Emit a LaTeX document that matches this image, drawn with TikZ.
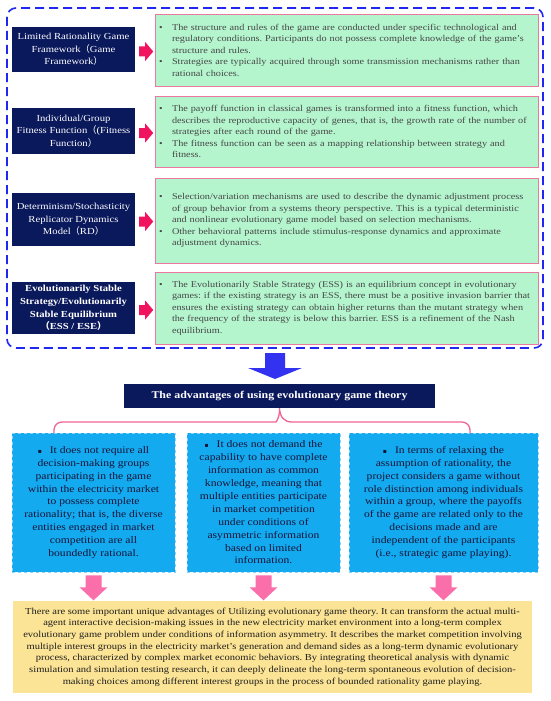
\documentclass[tikz,border=0pt]{standalone}
\usepackage{fontspec}
\setmainfont{Liberation Serif}[FakeStretch=1.15]
\newfontfamily\cjkf{Noto Sans CJK SC}
\newfontfamily\dvsf{DejaVu Sans}
\usetikzlibrary{calc}
\frenchspacing
\definecolor{navy}{RGB}{10,24,92}
\definecolor{mint}{RGB}{180,245,206}
\definecolor{pinkline}{RGB}{235,120,160}
\definecolor{graytext}{RGB}{70,70,70}
\definecolor{pinkA}{RGB}{240,20,95}
\definecolor{pinkB}{RGB}{250,110,170}
\definecolor{blueA}{RGB}{50,50,240}
\definecolor{blueD}{RGB}{30,40,240}
\definecolor{sky}{RGB}{20,170,240}
\definecolor{skyline}{RGB}{140,210,250}
\definecolor{darktext}{RGB}{20,20,55}
\definecolor{sand}{RGB}{252,228,150}
\definecolor{ytext}{RGB}{30,30,30}
\definecolor{bracepink}{RGB}{240,100,150}
\newcommand{\gbul}{\makebox[13pt][l]{\textbullet}}
\newcommand{\gind}{\hspace*{13pt}}
\newcommand{\sqb}{{\dvsf\fontsize{6}{6}\selectfont ▪}\hspace{8pt}}
\newcommand{\lpar}{{\cjkf （}}
\newcommand{\rpar}{{\cjkf ）}}
\begin{document}
\begin{tikzpicture}[x=1pt,y=-1pt,
  lbox/.style={fill=navy, text=white, minimum width=123pt, inner sep=2pt, align=center, font=\fontsize{9.25}{12.7}\selectfont},
  gbox/.style={fill=mint, draw=pinkline, line width=0.8pt, text width=375pt, inner sep=4pt, align=left, text=graytext, font=\fontsize{8.9}{11.5}\selectfont},
  bbox/.style={fill=sky, draw=skyline, dashed, line width=0.6pt, minimum height=139pt, align=center, text=darktext, font=\fontsize{10.1}{12.9}\selectfont, inner sep=0pt},
  ybox/.style={fill=sand, minimum width=519pt, minimum height=92pt, align=center, text=ytext, font=\fontsize{9.15}{11.7}\selectfont},
  tbox/.style={fill=navy, text=white, minimum width=311pt, minimum height=24pt, font=\bfseries\fontsize{10.35}{12}\selectfont},
  outerframe/.style={draw=blueD, line width=1.6pt, dash pattern=on 9pt off 5pt, rounded corners=9pt},
  bracestyle/.style={draw=bracepink, line width=1.3pt},
  sidearr/.pic={\fill[pinkA] (0,-5)--(6,-5)--(6,-9.5)--(14,0)--(6,9.5)--(6,5)--(0,5)--cycle;},
  bigarr/.pic={\fill[blueA] (-10,0)--(10,0)--(10,15)--(27,15)--(0,26)--(-27,15)--(-10,15)--cycle;},
  downarr/.pic={\fill[pinkB] (-8,0)--(8,0)--(8,12)--(14,12)--(0,25)--(-14,12)--(-8,12)--cycle;}
]
\useasboundingbox (0,0) rectangle (550,701);
\fill[white] (0,0) rectangle (550,701);

% outer dashed frame
\draw[outerframe] (7,8) rectangle (543,348);

% left boxes
\node[lbox, minimum height=45pt] (l1) at (73.5,49.5) {Limited Rationality Game\\Framework\lpar Game\\Framework\rpar};
\node[lbox, minimum height=46pt] (l2) at (73.5,131) {Individual/Group\\Fitness Function\lpar (Fitness\\Function\rpar};
\node[lbox, minimum height=53pt] (l3) at (73.5,219.5) {Determinism/Stochasticity\\Replicator Dynamics\\Model\lpar RD\rpar};
\node[lbox, minimum height=52pt, font=\bfseries\fontsize{9.25}{12.7}\selectfont] (l4) at (73.5,308) {Evolutionarily Stable\\Strategy/Evolutionarily\\Stable Equilibrium\\\lpar ESS / ESE\rpar};

% green boxes
\node[gbox, minimum height=72pt] (g1) at (346.5,50) {\gbul The structure and rules of the game are conducted under specific technological and\\\gind regulatory conditions. Participants do not possess complete knowledge of the game's\\\gind structure and rules.\\\gbul Strategies are typically acquired through some transmission mechanisms rather than\\\gind rational choices.};
\node[gbox, minimum height=71pt] (g2) at (346.5,131.5) {\gbul The payoff function in classical games is transformed into a fitness function, which\\\gind describes the reproductive capacity of genes, that is, the growth rate of the number of\\\gind strategies after each round of the game.\\\gbul The fitness function can be seen as a mapping relationship between strategy and\\\gind fitness.};
\node[gbox, minimum height=85pt] (g3) at (346.5,220.5) {\gbul Selection/variation mechanisms are used to describe the dynamic adjustment process\\\gind of group behavior from a systems theory perspective. This is a typical deterministic\\\gind and nonlinear evolutionary game model based on selection mechanisms.\\\gbul Other behavioral patterns include stimulus-response dynamics and approximate\\\gind adjustment dynamics.};
\node[gbox, minimum height=72pt] (g4) at (346.5,308) {\gbul The Evolutionarily Stable Strategy (ESS) is an equilibrium concept in evolutionary\\\gind games: if the existing strategy is an ESS, there must be a positive invasion barrier that\\\gind ensures the existing strategy can obtain higher returns than the mutant strategy when\\\gind the frequency of the strategy is below this barrier. ESS is a refinement of the Nash\\\gind equilibrium.};

% side arrows
\foreach \i in {1,2,3,4} {
  \pic at ($(l\i.east)+(4,2)$) {sidearr};
}

% big arrow and title
\coordinate (bigtail) at (275,353);
\pic at (bigtail) {bigarr};
\node[tbox] (title) at (279.5,396) {The advantages of using evolutionary game theory};

% blue boxes
\node[bbox, minimum width=163pt] (b1) at (93.5,502.5) {\sqb It does not require all\\decision-making groups\\participating in the game\\within the electricity market\\to possess complete\\rationality; that is, the diverse\\entities engaged in market\\competition are all\\boundedly rational.};
\node[bbox, minimum width=153pt] (b2) at (263.5,502.5) {\sqb It does not demand the\\capability to have complete\\information as common\\knowledge, meaning that\\multiple entities participate\\in market competition\\under conditions of\\asymmetric information\\based on limited\\information.};
\node[bbox, minimum width=189pt] (b3) at (443.5,502.5) {\sqb In terms of relaxing the\\assumption of rationality, the\\project considers a game without\\role distinction among individuals\\within a group, where the payoffs\\of the game are related only to the\\decisions made and are\\independent of the participants\\(i.e., strategic game playing).};

% brace
\coordinate (bl) at (54,433);
\coordinate (br) at (470,433);
\draw[bracestyle] (bl) [rounded corners=8pt] -- (54,422) -- (268,422) [sharp corners] .. controls (276,422) and (280,417) .. (title.south) .. controls (280,417) and (284,422) .. (292,422) [rounded corners=8pt] -- (470,422) -- (br);

% yellow box
\node[ybox] (y) at (272.5,647) {There are some important unique advantages of Utilizing evolutionary game theory. It can transform the actual multi-\\agent interactive decision-making issues in the new electricity market environment into a long-term complex\\evolutionary game problem under conditions of information asymmetry. It describes the market competition involving\\multiple interest groups in the electricity market's generation and demand sides as a long-term dynamic evolutionary\\process, characterized by complex market economic behaviors. By integrating theoretical analysis with dynamic\\simulation and simulation testing research, it can deeply delineate the long-term spontaneous evolution of decision-\\making choices among different interest groups in the process of bounded rationality game playing.};

% down arrows
\foreach \i in {1,2,3} {
  \pic at ($(b\i.south)+(0,3)$) {downarr};
}
\end{tikzpicture}
\end{document}
